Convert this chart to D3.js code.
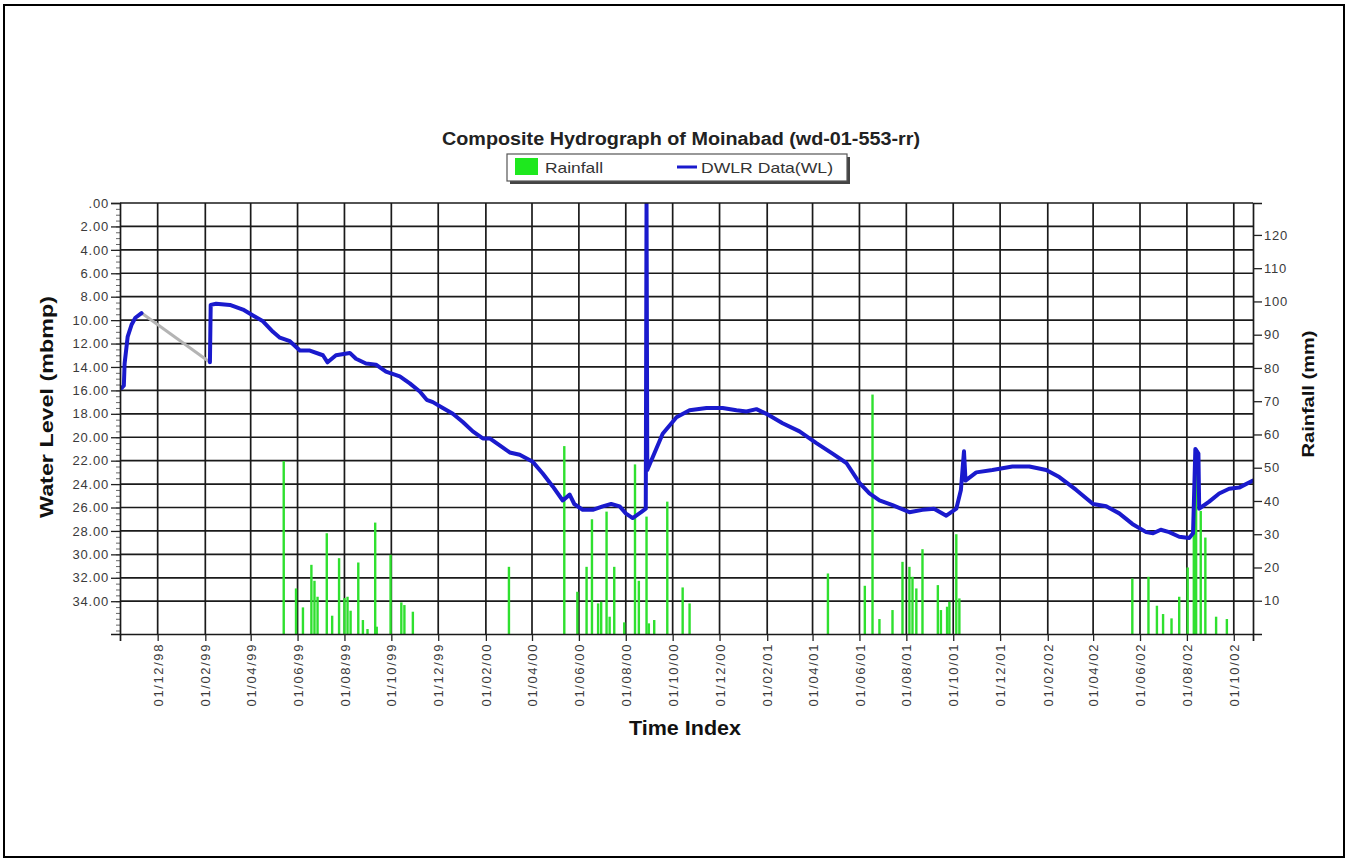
<!DOCTYPE html>
<html>
<head>
<meta charset="utf-8">
<script src="https://cdnjs.cloudflare.com/ajax/libs/d3/7.8.5/d3.min.js"></script>
<style>
body { margin:0; background:#fff; }
svg { display:block; }
text { font-family: Arial, "Liberation Sans", sans-serif; }
</style>
</head>
<body>
<svg width="1348" height="861"></svg>
<script>
// tick labels on the time axis (dd/mm/yy)
var xTickLabels = ["01/12/98","01/02/99","01/04/99","01/06/99","01/08/99","01/10/99",
	"01/12/99","01/02/00","01/04/00","01/06/00","01/08/00","01/10/00",
	"01/12/00","01/02/01","01/04/01","01/06/01","01/08/01","01/10/01",
	"01/12/01","01/02/02","01/04/02","01/06/02","01/08/02","01/10/02"];
var wlTicks = [0,2,4,6,8,10,12,14,16,18,20,22,24,26,28,30,32,34];
var rainTicks = [10,20,30,40,50,60,70,80,90,100,110,120];

// DWLR water level (m below measuring point), null = no record
var wlDates = ["1998-10-15","1998-10-18","1998-10-19","1998-10-23","1998-10-28","1998-11-02","1998-11-10",
	"1998-12-20",
	"1999-02-07","1999-02-08","1999-02-15","1999-03-05","1999-03-22","1999-04-04","1999-04-17","1999-04-30",
	"1999-05-09","1999-05-22","1999-06-04","1999-06-17","1999-07-04","1999-07-10","1999-07-21","1999-08-08",
	"1999-08-16","1999-08-29","1999-09-11","1999-09-24","1999-10-12","1999-10-25","1999-11-07","1999-11-16",
	"1999-11-24","1999-12-07","1999-12-20","2000-01-02","2000-01-15","2000-01-28","2000-02-06","2000-02-19",
	"2000-03-03","2000-03-16","2000-04-02","2000-04-15","2000-04-28","2000-05-11","2000-05-20","2000-05-26",
	"2000-06-06","2000-06-19","2000-07-02","2000-07-13","2000-07-24","2000-08-01","2000-08-10","2000-08-21",
	"2000-08-27","2000-08-28","2000-08-29","2000-09-05","2000-09-18","2000-10-06","2000-10-23","2000-11-14",
	"2000-12-05","2000-12-23","2001-01-05","2001-01-18","2001-01-31","2001-02-21","2001-03-15","2001-04-06",
	"2001-04-27","2001-05-15","2001-06-01","2001-06-14","2001-06-27","2001-07-14","2001-08-05","2001-08-22",
	"2001-09-06","2001-09-22","2001-10-05","2001-10-11","2001-10-15","2001-10-17","2001-10-31","2001-11-21",
	"2001-12-17","2002-01-08","2002-01-30","2002-02-16","2002-03-10","2002-04-01","2002-04-18","2002-05-05",
	"2002-05-22","2002-06-09","2002-06-18","2002-06-28","2002-07-09","2002-07-22","2002-08-04","2002-08-09",
	"2002-08-12","2002-08-16","2002-08-17","2002-08-30","2002-09-12","2002-09-25","2002-10-08","2002-10-26"];
var wlLevels = [15.8,15.6,13.7,11.4,10.4,9.8,9.4,
	null,
	13.6,8.7,8.6,8.7,9.1,9.6,10.1,11.0,
	11.5,11.8,12.6,12.6,13.0,13.6,13.0,12.8,
	13.3,13.7,13.8,14.4,14.8,15.4,16.1,16.8,
	17.0,17.5,18.0,18.7,19.5,20.1,20.1,20.7,
	21.3,21.5,22.1,23.1,24.2,25.4,24.9,25.7,
	26.2,26.2,25.9,25.7,25.9,26.5,26.9,26.4,
	26.1,0,22.8,21.7,19.7,18.3,17.7,17.5,
	17.5,17.7,17.8,17.6,18.0,18.8,19.5,20.5,
	21.4,22.2,23.9,24.8,25.4,25.8,26.4,26.2,
	26.1,26.7,26.1,24.5,21.2,23.7,23.0,22.8,
	22.5,22.5,22.8,23.4,24.5,25.7,25.9,26.5,
	27.4,28.1,28.2,27.9,28.1,28.5,28.6,28.2,
	21.0,21.4,26.1,25.5,24.8,24.4,24.3,23.7];

// grey joining line across the gap in the record
var gapDates = ["1998-11-10","1999-02-07"];
var gapLevels = [9.4, 13.6];

// daily rainfall (mm)
var rainDates = ["1999-05-14","1999-05-30","1999-06-08","1999-06-19","1999-06-23","1999-06-27","1999-07-09",
	"1999-07-16","1999-07-25","1999-08-01","1999-08-05","1999-08-09","1999-08-19","1999-08-25","1999-08-31",
	"1999-09-10","1999-09-12","1999-09-30","1999-10-14","1999-10-18","1999-10-29",
	"2000-03-02","2000-05-13","2000-05-30","2000-06-11","2000-06-18","2000-06-26","2000-06-30","2000-07-07",
	"2000-07-11","2000-07-17","2000-07-30","2000-08-13","2000-08-18","2000-08-28","2000-08-31","2000-09-07",
	"2000-09-24","2000-10-14","2000-10-23",
	"2001-04-21","2001-06-08","2001-06-18","2001-06-27","2001-07-14","2001-07-27","2001-08-05","2001-08-09",
	"2001-08-14","2001-08-22","2001-09-11","2001-09-15","2001-09-23","2001-09-26","2001-10-05","2001-10-09",
	"2002-05-22","2002-06-12","2002-06-23","2002-07-01","2002-07-12","2002-07-22","2002-08-02","2002-08-10",
	"2002-08-13","2002-08-19","2002-08-25","2002-09-08","2002-09-22"];
var rainMm = [52,13.7,8,20.8,16,11.2,30.3,
	5.5,22.8,10.8,11.2,7,21.5,4.2,1.5,
	33.5,2.2,23.8,9.5,8.7,6.7,
	20.2,56.5,12.7,20.2,34.5,9.2,9.7,36.8,
	5.2,20.2,3.5,51,16,35.3,3.2,4.2,
	39.8,14,9.2,
	18.2,14.5,72,4.5,7.2,21.7,20.2,17.2,
	13.7,25.5,14.7,7.2,8.2,9.7,30,10.7,
	16.7,17.2,8.5,6,4.7,11.2,20,31,
	53,37,29,5.2,4.5];

var svg = d3.select("svg"),
	margin = {top:203, right:95, bottom:227, left:120},
	width = +svg.attr("width") - margin.left - margin.right,
	height = +svg.attr("height") - margin.top - margin.bottom;

var parseDate = d3.timeParse("%Y-%m-%d"),
	parseTick = d3.timeParse("%d/%m/%y");

var x = d3.scaleTime()
	.domain([parseDate("1998-10-13"), parseDate("2002-10-26")])
	.range([0, width]);
var yWL = d3.scaleLinear().domain([0, 36.8]).range([0, height]);
var yRain = d3.scaleLinear().domain([0, 129.6]).range([height, 0]);

var xTicks = xTickLabels.map(parseTick);

var wlData = wlDates.map(function(d, i) { return {date: parseDate(d), level: wlLevels[i]}; });
var gapData = gapDates.map(function(d, i) { return {date: parseDate(d), level: gapLevels[i]}; });
var rainData = rainDates.map(function(d, i) { return {date: parseDate(d), mm: rainMm[i]}; });

// outer picture border
svg.append("rect")
	.attr("x", 4).attr("y", 5).attr("width", 1340).attr("height", 852)
	.attr("fill", "none").attr("stroke", "#000").attr("stroke-width", 2);

// title
svg.append("text")
	.attr("x", 681).attr("y", 145)
	.attr("text-anchor", "middle")
	.attr("textLength", 478).attr("lengthAdjust", "spacingAndGlyphs")
	.style("font-size", "18px").style("font-weight", "bold").attr("fill", "#222")
	.text("Composite Hydrograph of Moinabad (wd-01-553-rr)");

// legend
var legend = svg.append("g");
legend.append("rect")
	.attr("x", 510).attr("y", 157).attr("width", 340).attr("height", 27)
	.attr("fill", "#444");
legend.append("rect")
	.attr("x", 507).attr("y", 154).attr("width", 340).attr("height", 27)
	.attr("fill", "#fff").attr("stroke", "#555").attr("stroke-width", 1.2);
legend.append("rect")
	.attr("x", 515).attr("y", 158).attr("width", 23).attr("height", 17)
	.attr("fill", "#1ee81e");
legend.append("text")
	.attr("x", 545).attr("y", 173)
	.attr("textLength", 58).attr("lengthAdjust", "spacingAndGlyphs")
	.style("font-size", "15px").attr("fill", "#333")
	.text("Rainfall");
legend.append("line")
	.attr("x1", 677).attr("x2", 697).attr("y1", 167).attr("y2", 167)
	.attr("stroke", "#1a1acd").attr("stroke-width", 3);
legend.append("text")
	.attr("x", 701).attr("y", 173)
	.attr("textLength", 132).attr("lengthAdjust", "spacingAndGlyphs")
	.style("font-size", "15px").attr("fill", "#333")
	.text("DWLR Data(WL)");

var g = svg.append("g")
	.attr("transform", "translate(" + margin.left + "," + margin.top + ")");

g.append("clipPath").attr("id", "plot-clip")
	.append("rect").attr("width", width).attr("height", height);

// grid
g.append("g").selectAll("line.h")
	.data(wlTicks.slice(1))
	.enter().append("line")
		.attr("x1", 0).attr("x2", width)
		.attr("y1", function(d) { return yWL(d); })
		.attr("y2", function(d) { return yWL(d); })
		.attr("stroke", "#1a1a1a").attr("stroke-width", 1.7);
g.append("g").selectAll("line.v")
	.data(xTicks)
	.enter().append("line")
		.attr("x1", function(d) { return x(d); })
		.attr("x2", function(d) { return x(d); })
		.attr("y1", 0).attr("y2", height)
		.attr("stroke", "#1a1a1a").attr("stroke-width", 1.7);

// rainfall bars
g.append("g").attr("clip-path", "url(#plot-clip)")
	.selectAll("rect")
	.data(rainData)
	.enter().append("rect")
		.attr("x", function(d) { return x(d.date) - 1.2; })
		.attr("width", 2.4)
		.attr("y", function(d) { return yRain(d.mm); })
		.attr("height", function(d) { return height - yRain(d.mm); })
		.attr("fill", "#2fe02f");

// gap connector
g.append("path")
	.datum(gapData)
	.attr("fill", "none")
	.attr("stroke", "#b4b4b4").attr("stroke-width", 3)
	.attr("d", d3.line()
		.x(function(d) { return x(d.date); })
		.y(function(d) { return yWL(d.level); }));

// water level line
g.append("path")
	.datum(wlData)
	.attr("clip-path", "url(#plot-clip)")
	.attr("fill", "none")
	.attr("stroke", "#1a1acd").attr("stroke-width", 4)
	.attr("stroke-linejoin", "round").attr("stroke-linecap", "round")
	.attr("d", d3.line()
		.defined(function(d) { return d.level !== null; })
		.x(function(d) { return x(d.date); })
		.y(function(d) { return yWL(d.level); }));

// axes
var levelFormat = function(d) { return d3.format(".2f")(d).replace(/^0\./, "."); };

var leftMinor = g.append("g")
	.call(d3.axisLeft(yWL).tickValues(d3.range(0, 36.8, 0.5)).tickSize(4).tickFormat(""));
leftMinor.select(".domain").remove();
leftMinor.selectAll("line").attr("stroke", "#666");

var leftAxis = g.append("g")
	.call(d3.axisLeft(yWL).tickValues(wlTicks).tickFormat(levelFormat).tickSize(9).tickPadding(2));

var rightAxis = g.append("g")
	.attr("transform", "translate(" + width + ",0)")
	.call(d3.axisRight(yRain).tickValues(rainTicks).tickSize(9).tickPadding(2));

var bottomAxis = g.append("g")
	.attr("transform", "translate(0," + height + ")")
	.call(d3.axisBottom(x).tickValues(xTicks).tickFormat(d3.timeFormat("%d/%m/%y")).tickSize(7));

bottomAxis.selectAll("text")
	.attr("transform", "rotate(-90)")
	.attr("x", -9).attr("y", 0).attr("dy", "0.35em")
	.style("text-anchor", "end")
	.style("letter-spacing", "1.6px");

[leftAxis, rightAxis, bottomAxis].forEach(function(a) {
	a.select(".domain").attr("stroke", "#1a1a1a").attr("stroke-width", 1.7);
	a.selectAll(".tick line").attr("stroke", "#222").attr("stroke-width", 1.3);
	a.selectAll("text")
		.style("font-family", "Arial, 'Liberation Sans', sans-serif")
		.style("font-size", "13px")
		.attr("fill", "#3a3a3a");
});
leftAxis.selectAll("text").style("letter-spacing", "0.8px");
rightAxis.selectAll("text").style("letter-spacing", "0.8px");

// top frame
g.append("line")
	.attr("x1", 0).attr("x2", width).attr("y1", 0).attr("y2", 0)
	.attr("stroke", "#1a1a1a").attr("stroke-width", 1.7);

// axis titles
svg.append("text")
	.attr("transform", "translate(53,407) rotate(-90)")
	.attr("text-anchor", "middle")
	.attr("textLength", 222).attr("lengthAdjust", "spacingAndGlyphs")
	.style("font-size", "18px").style("font-weight", "bold").attr("fill", "#111")
	.text("Water Level (mbmp)");

svg.append("text")
	.attr("transform", "translate(1314,394) rotate(-90)")
	.attr("text-anchor", "middle")
	.attr("textLength", 127).attr("lengthAdjust", "spacingAndGlyphs")
	.style("font-size", "17px").style("font-weight", "bold").attr("fill", "#111")
	.text("Rainfall (mm)");

svg.append("text")
	.attr("x", 685).attr("y", 735)
	.attr("text-anchor", "middle")
	.attr("textLength", 112).attr("lengthAdjust", "spacingAndGlyphs")
	.style("font-size", "20px").style("font-weight", "bold").attr("fill", "#111")
	.text("Time Index");
</script>
</body>
</html>
